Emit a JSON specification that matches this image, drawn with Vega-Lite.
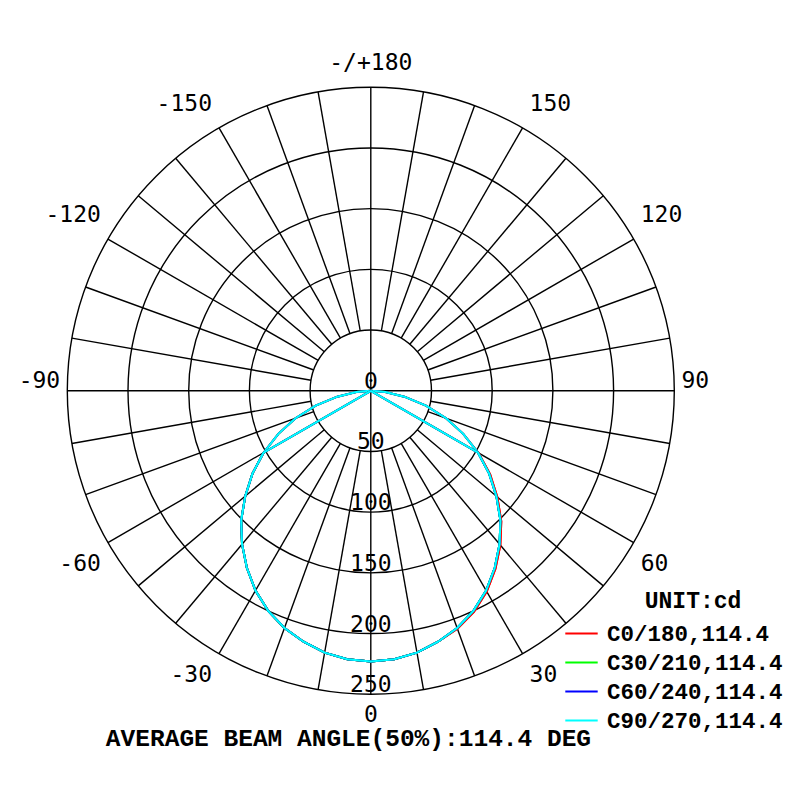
{
  "$schema": "https://vega.github.io/schema/vega-lite/v6.json",
  "description": "Polar luminous intensity curve, C0/180 to C90/270",
  "width": 800,
  "height": 800,
  "autosize": {"type": "fit", "contains": "padding"},
  "padding": 0,
  "background": "white",
  "config": {"view": {"stroke": null}},
  "datasets": {
    "rings": [{"r": 50}, {"r": 100}, {"r": 150}, {"r": 200}, {"r": 250}],
    "spokes": [
      {"a": 0}, {"a": 10}, {"a": 20}, {"a": 30}, {"a": 40}, {"a": 50}, {"a": 60}, {"a": 70}, {"a": 80},
      {"a": 90}, {"a": 100}, {"a": 110}, {"a": 120}, {"a": 130}, {"a": 140}, {"a": 150}, {"a": 160}, {"a": 170},
      {"a": 180}, {"a": 190}, {"a": 200}, {"a": 210}, {"a": 220}, {"a": 230}, {"a": 240}, {"a": 250}, {"a": 260},
      {"a": 270}, {"a": 280}, {"a": 290}, {"a": 300}, {"a": 310}, {"a": 320}, {"a": 330}, {"a": 340}, {"a": 350}
    ],
    "ringlabels": [{"v": 0}, {"v": 50}, {"v": 100}, {"v": 150}, {"v": 200}, {"v": 250}],
    "angles": [
      {"a": 0, "t": "0"}, {"a": 30, "t": "30"}, {"a": 60, "t": "60"}, {"a": 90, "t": "90"},
      {"a": 120, "t": "120"}, {"a": 150, "t": "150"}, {"a": 180, "t": "-/+180"},
      {"a": -30, "t": "-30"}, {"a": -60, "t": "-60"}, {"a": -90, "t": "-90"},
      {"a": -120, "t": "-120"}, {"a": -150, "t": "-150"}
    ],
    "curve": [
      {"p": "a", "a": -90, "C0/180": 0, "C30/210": 0, "C60/240": 0, "C90/270": 0},
      {"p": "a", "a": -85, "C0/180": 12, "C30/210": 12, "C60/240": 12, "C90/270": 12},
      {"p": "a", "a": -80, "C0/180": 28, "C30/210": 28, "C60/240": 28, "C90/270": 28},
      {"p": "a", "a": -75, "C0/180": 47, "C30/210": 47, "C60/240": 47, "C90/270": 47},
      {"p": "a", "a": -70, "C0/180": 66, "C30/210": 66, "C60/240": 66, "C90/270": 66},
      {"p": "a", "a": -65, "C0/180": 84, "C30/210": 84, "C60/240": 84, "C90/270": 84},
      {"p": "a", "a": -60, "C0/180": 102, "C30/210": 102, "C60/240": 102, "C90/270": 102},
      {"p": "a", "a": -55, "C0/180": 119, "C30/210": 119, "C60/240": 119, "C90/270": 119},
      {"p": "a", "a": -50, "C0/180": 135, "C30/210": 135, "C60/240": 135, "C90/270": 135},
      {"p": "a", "a": -45, "C0/180": 151, "C30/210": 151, "C60/240": 151, "C90/270": 151},
      {"p": "a", "a": -40, "C0/180": 165, "C30/210": 165, "C60/240": 165, "C90/270": 165},
      {"p": "a", "a": -35, "C0/180": 178, "C30/210": 178, "C60/240": 178, "C90/270": 178},
      {"p": "a", "a": -30, "C0/180": 190, "C30/210": 190, "C60/240": 190, "C90/270": 190},
      {"p": "a", "a": -25, "C0/180": 200, "C30/210": 200, "C60/240": 200, "C90/270": 200},
      {"p": "a", "a": -20, "C0/180": 208, "C30/210": 208, "C60/240": 208, "C90/270": 208},
      {"p": "a", "a": -15, "C0/180": 214, "C30/210": 214, "C60/240": 214, "C90/270": 214},
      {"p": "a", "a": -10, "C0/180": 219, "C30/210": 219, "C60/240": 219, "C90/270": 219},
      {"p": "a", "a": -5, "C0/180": 222, "C30/210": 222, "C60/240": 222, "C90/270": 222},
      {"p": "a", "a": 0, "C0/180": 223, "C30/210": 223, "C60/240": 223, "C90/270": 223},
      {"p": "a", "a": 5, "C0/180": 222, "C30/210": 222, "C60/240": 222, "C90/270": 222},
      {"p": "a", "a": 10, "C0/180": 219, "C30/210": 219, "C60/240": 219, "C90/270": 219},
      {"p": "a", "a": 15, "C0/180": 214, "C30/210": 214, "C60/240": 214, "C90/270": 214},
      {"p": "a", "a": 20, "C0/180": 208.5, "C30/210": 208, "C60/240": 208, "C90/270": 208},
      {"p": "a", "a": 25, "C0/180": 201, "C30/210": 200, "C60/240": 200, "C90/270": 200},
      {"p": "a", "a": 30, "C0/180": 191, "C30/210": 190, "C60/240": 190, "C90/270": 190},
      {"p": "a", "a": 35, "C0/180": 179, "C30/210": 178, "C60/240": 178, "C90/270": 178},
      {"p": "a", "a": 40, "C0/180": 166, "C30/210": 165, "C60/240": 165, "C90/270": 165},
      {"p": "a", "a": 45, "C0/180": 152, "C30/210": 151, "C60/240": 151, "C90/270": 151},
      {"p": "a", "a": 50, "C0/180": 136, "C30/210": 135, "C60/240": 135, "C90/270": 135},
      {"p": "a", "a": 55, "C0/180": 120, "C30/210": 119, "C60/240": 119, "C90/270": 119},
      {"p": "a", "a": 60, "C0/180": 102.5, "C30/210": 102, "C60/240": 102, "C90/270": 102},
      {"p": "a", "a": 65, "C0/180": 84, "C30/210": 84, "C60/240": 84, "C90/270": 84},
      {"p": "a", "a": 70, "C0/180": 66, "C30/210": 66, "C60/240": 66, "C90/270": 66},
      {"p": "a", "a": 75, "C0/180": 47, "C30/210": 47, "C60/240": 47, "C90/270": 47},
      {"p": "a", "a": 80, "C0/180": 28, "C30/210": 28, "C60/240": 28, "C90/270": 28},
      {"p": "a", "a": 85, "C0/180": 12, "C30/210": 12, "C60/240": 12, "C90/270": 12},
      {"p": "a", "a": 90, "C0/180": 0, "C30/210": 0, "C60/240": 0, "C90/270": 0},
      {"p": "b", "a": -90, "C0/180": 0, "C30/210": 0, "C60/240": 0, "C90/270": 0},
      {"p": "b", "a": -60, "C0/180": 102, "C30/210": 102, "C60/240": 102, "C90/270": 102},
      {"p": "b", "a": -55, "C0/180": 119, "C30/210": 119, "C60/240": 119, "C90/270": 119},
      {"p": "b", "a": -50, "C0/180": 135, "C30/210": 135, "C60/240": 135, "C90/270": 135},
      {"p": "b", "a": -45, "C0/180": 151, "C30/210": 151, "C60/240": 151, "C90/270": 151},
      {"p": "b", "a": -40, "C0/180": 165, "C30/210": 165, "C60/240": 165, "C90/270": 165},
      {"p": "b", "a": -35, "C0/180": 178, "C30/210": 178, "C60/240": 178, "C90/270": 178},
      {"p": "b", "a": -30, "C0/180": 190, "C30/210": 190, "C60/240": 190, "C90/270": 190},
      {"p": "b", "a": -25, "C0/180": 200, "C30/210": 200, "C60/240": 200, "C90/270": 200},
      {"p": "b", "a": -20, "C0/180": 208, "C30/210": 208, "C60/240": 208, "C90/270": 208},
      {"p": "b", "a": -15, "C0/180": 214, "C30/210": 214, "C60/240": 214, "C90/270": 214},
      {"p": "b", "a": -10, "C0/180": 219, "C30/210": 219, "C60/240": 219, "C90/270": 219},
      {"p": "b", "a": -5, "C0/180": 222, "C30/210": 222, "C60/240": 222, "C90/270": 222},
      {"p": "b", "a": 0, "C0/180": 223, "C30/210": 223, "C60/240": 223, "C90/270": 223},
      {"p": "b", "a": 5, "C0/180": 222, "C30/210": 222, "C60/240": 222, "C90/270": 222},
      {"p": "b", "a": 10, "C0/180": 219, "C30/210": 219, "C60/240": 219, "C90/270": 219},
      {"p": "b", "a": 15, "C0/180": 214, "C30/210": 214, "C60/240": 214, "C90/270": 214},
      {"p": "b", "a": 20, "C0/180": 208.5, "C30/210": 208, "C60/240": 208, "C90/270": 208},
      {"p": "b", "a": 25, "C0/180": 201, "C30/210": 200, "C60/240": 200, "C90/270": 200},
      {"p": "b", "a": 30, "C0/180": 191, "C30/210": 190, "C60/240": 190, "C90/270": 190},
      {"p": "b", "a": 35, "C0/180": 179, "C30/210": 178, "C60/240": 178, "C90/270": 178},
      {"p": "b", "a": 40, "C0/180": 166, "C30/210": 165, "C60/240": 165, "C90/270": 165},
      {"p": "b", "a": 45, "C0/180": 152, "C30/210": 151, "C60/240": 151, "C90/270": 151},
      {"p": "b", "a": 50, "C0/180": 136, "C30/210": 135, "C60/240": 135, "C90/270": 135},
      {"p": "b", "a": 55, "C0/180": 120, "C30/210": 119, "C60/240": 119, "C90/270": 119},
      {"p": "b", "a": 60, "C0/180": 102.5, "C30/210": 102, "C60/240": 102, "C90/270": 102},
      {"p": "b", "a": 90, "C0/180": 0, "C30/210": 0, "C60/240": 0, "C90/270": 0}
    ]
  },
  "encoding": {
    "x": {"field": "x", "type": "quantitative", "scale": {"domain": [-305.4, 353.5], "nice": false, "zero": false}, "axis": null},
    "y": {"field": "y", "type": "quantitative", "scale": {"domain": [-337.1, 321.9], "nice": false, "zero": false}, "axis": null}
  },
  "layer": [
    {
      "data": {"name": "rings"},
      "transform": [
        {"calculate": "0", "as": "x"},
        {"calculate": "0", "as": "y"}
      ],
      "mark": {"type": "point", "shape": "circle", "filled": false, "color": "black", "strokeWidth": 1.4, "opacity": 1},
      "encoding": {
        "size": {"field": "r", "type": "quantitative", "scale": {"type": "pow", "exponent": 2, "domain": [0, 250], "range": [0, 368449]}, "legend": null}
      }
    },
    {
      "data": {"name": "spokes"},
      "transform": [
        {"calculate": "datum.a % 90 == 0 ? 0 : 50", "as": "r0"},
        {"calculate": "datum.r0 * sin(datum.a * PI / 180)", "as": "x"},
        {"calculate": "-datum.r0 * cos(datum.a * PI / 180)", "as": "y"},
        {"calculate": "250 * sin(datum.a * PI / 180)", "as": "x2"},
        {"calculate": "-250 * cos(datum.a * PI / 180)", "as": "y2"}
      ],
      "mark": {"type": "rule", "color": "black", "strokeWidth": 1.4},
      "encoding": {
        "x2": {"field": "x2"},
        "y2": {"field": "y2"}
      }
    },
    {
      "data": {"name": "curve"},
      "transform": [
        {"fold": ["C0/180", "C30/210", "C60/240", "C90/270"], "as": ["s", "cd"]},
        {"calculate": "datum.cd * sin(datum.a * PI / 180)", "as": "x"},
        {"calculate": "-datum.cd * cos(datum.a * PI / 180)", "as": "y"}
      ],
      "mark": {"type": "line", "strokeWidth": 2},
      "encoding": {
        "color": {
          "field": "s",
          "type": "nominal",
          "scale": {"domain": ["C0/180", "C30/210", "C60/240", "C90/270"], "range": ["#ff0000", "#00ff00", "#0000ff", "#00ffff"]},
          "legend": {
            "orient": "none",
            "legendX": 564,
            "legendY": 616,
            "title": null,
            "padding": 0,
            "symbolType": "stroke",
            "symbolSize": 1050,
            "symbolStrokeWidth": 2,
            "labelFont": "Liberation Mono",
            "labelFontWeight": "bold",
            "labelFontSize": 22.5,
            "labelColor": "black",
            "labelLimit": 400,
            "labelOffset": 8,
            "rowPadding": -3,
            "labelExpr": "datum.label + ',114.4'"
          }
        },
        "detail": {"field": "p"},
        "order": {"field": "a", "type": "quantitative"}
      }
    },
    {
      "data": {"name": "ringlabels"},
      "transform": [
        {"calculate": "0", "as": "x"},
        {"calculate": "1.65 - datum.v", "as": "y"}
      ],
      "mark": {"type": "text", "font": "DejaVu Sans Mono", "fontSize": 23, "align": "center", "baseline": "alphabetic", "color": "black"},
      "encoding": {"text": {"field": "v"}}
    },
    {
      "data": {"name": "angles"},
      "transform": [
        {"calculate": "sin(datum.a * PI / 180)", "as": "sa"},
        {"calculate": "cos(datum.a * PI / 180)", "as": "ca"},
        {"filter": "datum.sa > 0.01"},
        {"calculate": "250 * datum.sa + 5.8", "as": "x"},
        {"calculate": "-250 * datum.ca + (datum.ca > 0.3 ? -17.3 : datum.ca < -0.3 ? 19.8 : 8.2)", "as": "y"}
      ],
      "mark": {"type": "text", "font": "DejaVu Sans Mono", "fontSize": 23, "align": "left", "baseline": "middle", "color": "black"},
      "encoding": {"text": {"field": "t"}}
    },
    {
      "data": {"name": "angles"},
      "transform": [
        {"calculate": "sin(datum.a * PI / 180)", "as": "sa"},
        {"calculate": "cos(datum.a * PI / 180)", "as": "ca"},
        {"filter": "datum.sa < -0.01"},
        {"calculate": "250 * datum.sa - 5.8", "as": "x"},
        {"calculate": "-250 * datum.ca + (datum.ca > 0.3 ? -17.3 : datum.ca < -0.3 ? 19.8 : 8.2)", "as": "y"}
      ],
      "mark": {"type": "text", "font": "DejaVu Sans Mono", "fontSize": 23, "align": "right", "baseline": "middle", "color": "black"},
      "encoding": {"text": {"field": "t"}}
    },
    {
      "data": {"name": "angles"},
      "transform": [
        {"calculate": "sin(datum.a * PI / 180)", "as": "sa"},
        {"calculate": "cos(datum.a * PI / 180)", "as": "ca"},
        {"filter": "abs(datum.sa) <= 0.01"},
        {"calculate": "0", "as": "x"},
        {"calculate": "-250 * datum.ca + (datum.ca > 0.3 ? -17.3 : 19.8)", "as": "y"}
      ],
      "mark": {"type": "text", "font": "DejaVu Sans Mono", "fontSize": 23, "align": "center", "baseline": "middle", "color": "black"},
      "encoding": {"text": {"field": "t"}}
    },
    {
      "data": {"values": [{"t": "UNIT:cd"}]},
      "transform": [
        {"calculate": "265.4", "as": "x"},
        {"calculate": "-179.3", "as": "y"}
      ],
      "mark": {"type": "text", "font": "Liberation Mono", "fontWeight": "bold", "fontSize": 23, "align": "center", "baseline": "alphabetic", "color": "black"},
      "encoding": {"text": {"field": "t"}}
    },
    {
      "data": {"values": [{"t": "AVERAGE BEAM ANGLE(50%):114.4 DEG"}]},
      "transform": [
        {"calculate": "-18.4", "as": "x"},
        {"calculate": "-292.6", "as": "y"}
      ],
      "mark": {"type": "text", "font": "Liberation Mono", "fontWeight": "bold", "fontSize": 24.5, "align": "center", "baseline": "alphabetic", "color": "black"},
      "encoding": {"text": {"field": "t"}}
    }
  ]
}
